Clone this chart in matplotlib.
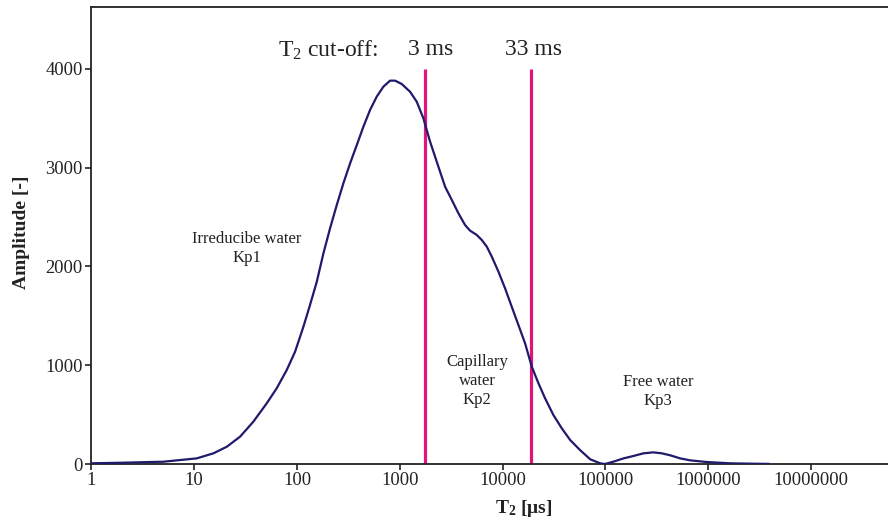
import matplotlib
matplotlib.use("Agg")
import matplotlib.pyplot as plt
from matplotlib.ticker import FixedLocator, FixedFormatter, NullLocator

plt.rcParams['font.family'] = ['Liberation Serif', 'DejaVu Serif']
plt.rcParams['mathtext.default'] = 'regular'

# T2 relaxation time [us] and amplitude
t2 = [1.0, 2.0, 3.7, 5.0, 7.3, 10.6, 15.4, 20.8, 28, 37.7, 50.8, 63.6, 79.6,
      95.9, 115.6, 134, 156, 181, 210, 244, 283, 329, 382, 443, 514, 597,
      693, 805, 900, 1045, 1259, 1462, 1698, 1972, 2205, 2466, 2760, 3206,
      3718, 4315, 4830, 5610, 6280, 7020, 7850, 9120, 10570, 12270, 14250,
      16550, 19230, 22330, 25900, 31200, 37600, 45400, 56800, 71100, 88900,
      99300, 120000, 150000, 187000, 234000, 293000, 354000, 427000, 534000,
      667000, 969000, 1.63e6, 2.75e6, 3.85e6]
amp = [7, 13, 20, 23, 40, 57, 108, 175, 277, 429, 614, 767, 952,
       1137, 1390, 1610, 1846, 2134, 2387, 2623, 2843, 3045, 3230, 3416, 3585,
       3720, 3821, 3882, 3882, 3848, 3770, 3669, 3500, 3264, 3112, 2960, 2808,
       2674, 2539, 2420, 2363, 2319, 2268, 2201, 2100, 1947, 1779, 1593, 1408,
       1222, 985, 817, 665, 496, 362, 243, 140, 48, 7,
       0, 24, 57, 81, 108, 118, 108, 88, 57,
       37, 20, 7, 3, 1]

cutoffs = [1763, 18800]
cutoff_labels = ['3 ms', '33 ms']

xticks = [1, 10, 100, 1000, 10000, 100000, 1000000, 10000000]
yticks = [0, 1000, 2000, 3000, 4000]

fig = plt.figure(figsize=(8.88, 5.21), dpi=100)
ax = fig.add_axes([0.1028, 0.1094, 0.8972, 0.8772])

ax.plot(t2, amp, color='#1f1a6b', lw=1.6, zorder=3, solid_joinstyle='round')
ax.vlines(cutoffs, 0, 4000, color='#e0147a', lw=2.3, zorder=2)

ax.set_xscale('log')
ax.set_xlim(1, 5.6e7)
ax.set_ylim(0, 4628)

ax.xaxis.set_major_locator(FixedLocator(xticks))
ax.xaxis.set_major_formatter(FixedFormatter([str(v) for v in xticks]))
ax.xaxis.set_minor_locator(NullLocator())
ax.yaxis.set_major_locator(FixedLocator(yticks))
ax.yaxis.set_major_formatter(FixedFormatter([str(v) for v in yticks]))

ax.tick_params(direction='out', length=4, width=1.2, labelsize=13.3,
               colors='#222222', pad=2)
for s in ['left', 'bottom', 'top']:
    ax.spines[s].set_linewidth(1.3)
    ax.spines[s].set_color('#222222')
ax.spines['right'].set_visible(False)

ax.set_xlabel(r'$T_2$ [μs]', fontsize=14, fontweight='bold', color='#222222')
ax.xaxis.set_label_coords(0.543, -0.075)
ax.set_ylabel('Amplitude [-]', fontsize=14, fontweight='bold', color='#222222')
ax.yaxis.set_label_coords(-0.077, 0.508)

# cut-off annotations
ax.text(66, 4193, r'$T_2$ cut-off:', fontsize=17, ha='left', va='center',
        color='#222222')
ax.text(1977, 4193, cutoff_labels[0], fontsize=17, ha='center', va='center',
        color='#222222')
ax.text(19800, 4193, cutoff_labels[1], fontsize=17, ha='center', va='center',
        color='#222222')

# region labels
ax.text(32.7, 2180, 'Irreducibe water\nKp1', fontsize=12, ha='center',
        va='center', linespacing=1.25, color='#222222')
ax.text(5650, 840, 'Capillary\nwater\nKp2', fontsize=12, ha='center',
        va='center', linespacing=1.25, color='#222222')
ax.text(326000, 730, 'Free water\nKp3', fontsize=12, ha='center',
        va='center', linespacing=1.25, color='#222222')

fig.savefig('out.png', dpi=100)
